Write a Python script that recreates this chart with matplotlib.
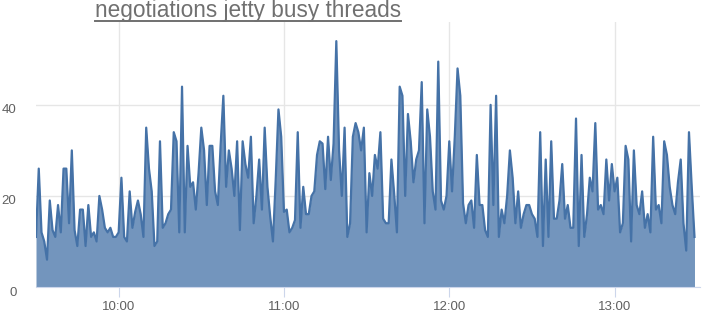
import pandas as pd
import matplotlib.pyplot as plt
import matplotlib.dates as mdates
from matplotlib.transforms import ScaledTranslation
from matplotlib.lines import Line2D

# busy threads, one sample per minute from 09:30
start = "2024-01-01 09:30"
busy_threads = [
    11, 26, 12, 10, 6, 19, 12.5, 11, 18, 12,
    26, 26, 14, 30, 12.5, 9, 17, 17, 9, 18,
    11, 12, 10, 20, 17, 13, 12, 13, 11, 11,
    12, 24, 11, 10, 21, 13, 16.5, 19, 16, 11,
    35, 26, 21, 9, 10, 32, 13, 14, 16, 17,
    34, 32, 12, 44, 12, 31, 22, 23, 17, 25,
    35, 30, 18, 31, 31, 21, 18, 31, 42, 22,
    30, 26, 20, 32, 12.5,
    32, 27, 24, 33, 14, 20, 28, 17, 35, 22,
    15.5, 10, 23.5, 39, 33, 16.5, 17, 12, 13, 14.7,
    34, 13, 22, 16, 16, 20, 21, 29, 32, 31.5,
    21.5, 33, 23.5, 31.5, 54,
    30, 20, 35, 11, 14, 33, 36, 34, 30, 35,
    12, 25, 20, 29, 26, 34, 15, 14, 14, 28,
    20.5, 12, 44, 42, 20, 38, 32, 23, 28, 30,
    45, 14, 39, 33, 21, 17, 49.5, 19, 17, 20,
    32, 21, 33, 48, 42,
    18.4, 14, 18, 19, 13, 29, 18, 18, 12.5, 11,
    40, 18, 42, 11, 17, 14, 20, 30, 24, 14,
    21, 13, 16, 18, 18, 16, 15, 11, 34, 9,
    28, 11, 32, 15, 15, 19, 27, 15, 18, 13,
    13, 37, 9, 29, 11, 16, 24, 21, 36, 17,
    18, 16, 28, 19, 27, 21, 24, 12, 14, 31,
    28, 10, 30, 18, 16, 21, 13, 16, 12, 33,
    17, 18, 14, 32, 29, 22, 18, 16, 23, 28,
    14, 8, 34, 22, 11,
]
times = pd.date_range(start, periods=len(busy_threads), freq="1min")
y_ticks = [0, 20, 40]
title = "negotiations jetty busy threads"

plt.rcParams['font.family'] = ['Liberation Sans', 'DejaVu Sans']

fig = plt.figure(figsize=(7.03, 3.13), dpi=100)
ax = fig.add_axes([36 / 703, 26 / 313, 664 / 703, 265 / 313])

ax.fill_between(times, busy_threads, 0, color="#7395BD", linewidth=0)
ax.plot(times, busy_threads, color="#4572A7", linewidth=1.6)

ax.set_xlim(times[0], times[-1] + pd.Timedelta(minutes=2))
ax.set_ylim(0, 58.2)

ax.xaxis.set_major_locator(mdates.HourLocator())
ax.xaxis.set_major_formatter(mdates.DateFormatter("%H:%M"))
ax.set_yticks(y_ticks)

for s in ["top", "right", "left"]:
    ax.spines[s].set_visible(False)
ax.spines["bottom"].set_color("#ccd6eb")

ax.grid(True, axis="both", color="#e6e6e6", linewidth=1)
ax.set_axisbelow(True)
ax.tick_params(axis="x", length=7, color="#ccd6eb", labelsize=9.5,
               labelcolor="#606060", pad=3)
ax.tick_params(axis="y", length=0, labelsize=9.5, labelcolor="#606060", pad=14)

# y labels sit a little below their gridline
for lab in ax.get_yticklabels():
    lab.set_transform(lab.get_transform() + ScaledTranslation(0, -4 / 100, fig.dpi_scale_trans))

t = fig.text(95 / 703, 1 - 17 / 313, title, fontsize=16.3, color="#707070",
             ha="left", va="baseline")
fig.canvas.draw()
bb = t.get_window_extent().transformed(fig.transFigure.inverted())
uy = 1 - 20.5 / 313
fig.add_artist(Line2D([bb.x0, bb.x1], [uy, uy], color="#707070", linewidth=1.4,
                      transform=fig.transFigure))

fig.savefig("out.png", dpi=100)
